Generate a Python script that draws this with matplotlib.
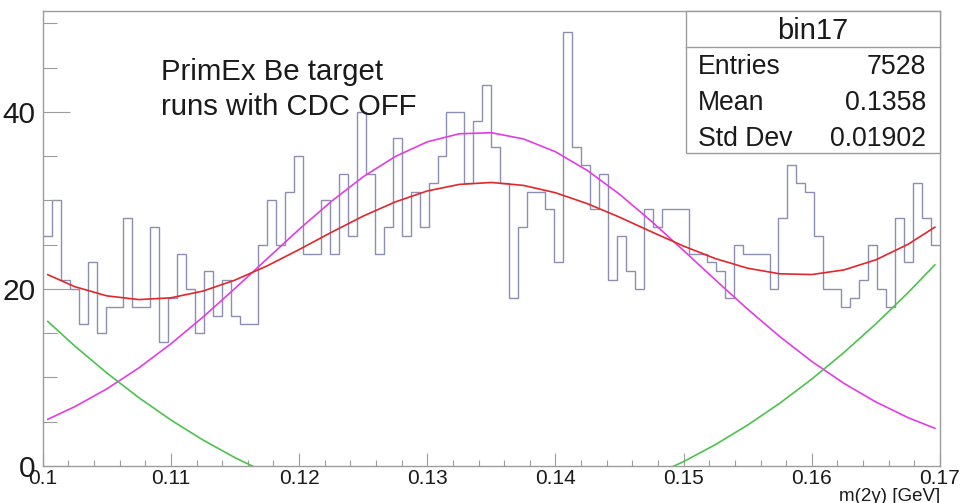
import matplotlib
matplotlib.use("Agg")
import matplotlib.pyplot as plt
import numpy as np
from matplotlib.lines import Line2D
from matplotlib.patches import Rectangle
from matplotlib.ticker import MultipleLocator

plt.rcParams["font.family"] = ["Liberation Sans", "DejaVu Sans"]

# ---------------------------------------------------------------------------
# m(2γ) spectrum, 100 bins over [0.1, 0.17] GeV
# ---------------------------------------------------------------------------
bin_lo, bin_hi, n_bins = 0.1, 0.17, 100
counts = [
    26, 30, 21, 20, 16, 23, 15, 18, 18, 28,
    18, 18, 27, 14, 19, 24, 20, 15, 22, 17,
    21, 17, 16, 16, 25, 30, 25, 31, 35, 24,
    24, 30, 24, 33, 26, 40, 33, 24, 27, 37,
    26, 31, 27, 32, 35, 40, 40, 32, 39, 43,
    36, 32, 19, 27, 31, 31, 29, 23, 49, 36,
    34, 29, 33, 21, 26, 22, 20, 29, 27, 29,
    29, 29, 24, 24, 23, 22, 19, 25, 24, 24,
    24, 20, 28, 34, 32, 31, 26, 20, 20, 18,
    19, 21, 25, 20, 18, 28, 23, 32, 28, 25,
]

# fit components sampled along the fit range
fit_x = [
    0.1004, 0.1025, 0.1050, 0.1075, 0.1100, 0.1125, 0.1150, 0.1175,
    0.1200, 0.1225, 0.1250, 0.1275, 0.1300, 0.1325, 0.1350, 0.1375,
    0.1400, 0.1425, 0.1450, 0.1475, 0.1500, 0.1525, 0.1550, 0.1575,
    0.1600, 0.1625, 0.1650, 0.1675, 0.1696,
]
signal_y = [
    5.28, 6.70, 8.71, 11.08, 13.80, 16.82, 20.06, 23.40,
    26.73, 29.87, 32.67, 34.96, 36.62, 37.53, 37.65, 36.95,
    35.50, 33.37, 30.70, 27.63, 24.34, 20.99, 17.71, 14.62,
    11.81, 9.34, 7.23, 5.47, 4.26,
]
background_y = [
    16.33, 13.56, 10.51, 7.72, 5.20, 2.94, 0.94, -0.80,
    -2.28, -3.49, -4.44, -5.13, -5.55, -5.72, -5.62, -5.25,
    -4.63, -3.74, -2.59, -1.18, 0.50, 2.43, 4.63, 7.09,
    9.82, 12.81, 16.06, 19.57, 22.72,
]
total_y = [
    21.61, 20.26, 19.22, 18.80, 19.00, 19.76, 21.00, 22.60,
    24.45, 26.38, 28.23, 29.83, 31.07, 31.81, 32.03, 31.70,
    30.87, 29.63, 28.11, 26.45, 24.84, 23.42, 22.34, 21.71,
    21.63, 22.15, 23.29, 25.04, 26.98,
]

x_ticks = [0.10, 0.11, 0.12, 0.13, 0.14, 0.15, 0.16, 0.17]
x_tick_labels = ["0.1", "0.11", "0.12", "0.13", "0.14", "0.15", "0.16", "0.17"]
y_ticks = [0, 20, 40]

stats_title = "bin17"
stats_names = ["Entries", "Mean", "Std Dev"]
stats_values = ["7528", "0.1358", "0.01902"]

# ---------------------------------------------------------------------------
# Layout (pixel based, 960 x 503 canvas)
# ---------------------------------------------------------------------------
W, H = 960, 503
FRAME = "#9c9c9c"
INK = "#1a1a1a"


def fx(px):
    return px / W


def fy(py):
    return 1 - py / H


fig = plt.figure(figsize=(W / 100, H / 100), dpi=100)
ax = fig.add_axes([fx(42.7), fy(466), fx(940) - fx(42.7), fy(11) - fy(466)])

edges = np.linspace(bin_lo, bin_hi, n_bins + 1)
ax.stairs(counts, edges, baseline=None, color="#8e8eb2", lw=1.0)

ax.plot(fit_x, signal_y, color="#e03ee4", lw=1.2)
ax.plot(fit_x, background_y, color="#4cc24c", lw=1.2)
ax.plot(fit_x, total_y, color="#e3262a", lw=1.2)

ax.set_xlim(bin_lo, bin_hi)
ax.set_ylim(0, 51.4)

ax.set_xticks(x_ticks)
ax.set_xticklabels(x_tick_labels)
ax.set_yticks(y_ticks)
ax.xaxis.set_minor_locator(MultipleLocator(0.002))
ax.yaxis.set_minor_locator(MultipleLocator(5))

ax.tick_params(axis="both", which="both", direction="in", color=FRAME,
               width=0.8, top=False, right=False, labelcolor=INK)
ax.tick_params(axis="x", which="major", length=9.4, pad=2, labelsize=15)
ax.tick_params(axis="x", which="minor", length=4.3)
ax.tick_params(axis="y", which="major", length=19.4, pad=5, labelsize=21.5)
ax.tick_params(axis="y", which="minor", length=10)

for side in ax.spines.values():
    side.set_color(FRAME)
    side.set_linewidth(1.0)

# run annotation
fig.text(fx(161), fy(80), "PrimEx Be target", fontsize=21.2, color=INK,
         va="baseline", ha="left")
fig.text(fx(161), fy(115), "runs with CDC OFF", fontsize=21.2, color=INK,
         va="baseline", ha="left")

# axis title, tucked under the right end of the x axis
fig.text(fx(940), fy(488), "m(2γ) [GeV]", fontsize=13.5, color=INK,
         va="top", ha="right")

# statistics box
box_l, box_r, box_t, box_b, box_sep = 685.7, 940, 11, 153.3, 46.7
fig.add_artist(Rectangle((fx(box_l), fy(box_b)), fx(box_r) - fx(box_l),
                         fy(box_t) - fy(box_b), transform=fig.transFigure,
                         facecolor="white", edgecolor=FRAME, lw=1.0, zorder=5))
fig.add_artist(Line2D([fx(box_l), fx(box_r)], [fy(box_sep), fy(box_sep)],
                      transform=fig.transFigure, color=FRAME, lw=1.0, zorder=6))
fig.text(fx((box_l + box_r) / 2), fy(39), stats_title, fontsize=21, color=INK,
         ha="center", va="baseline", zorder=7)
for i, (name, value) in enumerate(zip(stats_names, stats_values)):
    base = 74 + 36 * i
    fig.text(fx(698), fy(base), name, fontsize=19.2, color=INK,
             ha="left", va="baseline", zorder=7)
    fig.text(fx(926), fy(base), value, fontsize=19.2, color=INK,
             ha="right", va="baseline", zorder=7)

fig.savefig("out.png", dpi=100)
plt.close(fig)
